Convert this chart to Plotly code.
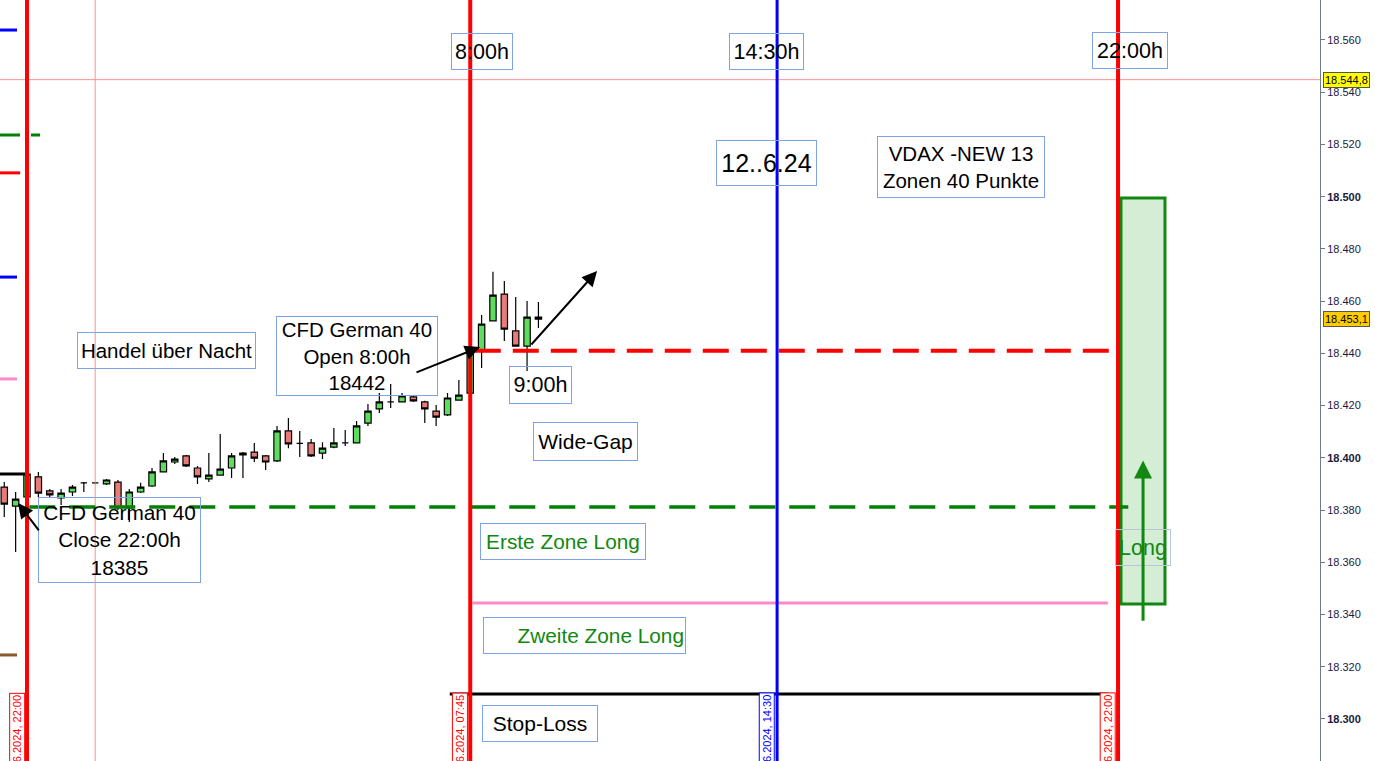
import plotly.graph_objects as go

# ---------------- data ----------------
candle_idx = list(range(48))
opens = [18388.8, 18381.5, 18385.0, 18392.7, 18387.3, 18384.6, 18386.9, 18390.4, 18390.4, 18390.0,
         18390.7, 18380.8, 18386.9, 18389.2, 18394.6, 18398.4, 18400.7, 18396.1, 18391.9, 18393.4,
         18396.1, 18401.1, 18402.2, 18400.7, 18398.8, 18410.3, 18405.5, 18405.7, 18401.8, 18404.1,
         18405.7, 18405.7, 18413.3, 18418.7, 18421.4, 18421.4, 18423.3, 18421.4, 18417.9, 18416.4,
         18422.1, 18424.8, 18441.3, 18452.4, 18462.7, 18448.6, 18442.8, 18453.9]
highs = [18390.7, 18386.9, 18395.3, 18394.6, 18388.1, 18388.1, 18389.6, 18390.7, 18390.7, 18391.9,
         18391.5, 18388.1, 18390.4, 18396.1, 18401.8, 18400.3, 18401.1, 18396.9, 18401.8, 18409.1,
         18401.8, 18402.2, 18405.7, 18401.1, 18412.2, 18415.2, 18410.3, 18407.2, 18406.0, 18411.4,
         18410.6, 18414.1, 18420.6, 18424.8, 18428.3, 18424.8, 18423.7, 18421.8, 18420.2, 18424.8,
         18429.8, 18442.0, 18454.7, 18471.2, 18467.7, 18461.6, 18460.0, 18459.7]
lows = [18377.3, 18363.9, 18383.8, 18385.0, 18384.6, 18381.9, 18385.4, 18386.9, 18390.0, 18389.6,
        18380.0, 18375.4, 18386.5, 18388.8, 18394.6, 18397.6, 18396.5, 18390.0, 18390.7, 18393.4,
        18392.3, 18392.3, 18398.4, 18395.3, 18398.4, 18403.7, 18400.3, 18400.3, 18399.5, 18403.7,
        18404.5, 18405.7, 18412.2, 18417.2, 18419.1, 18421.4, 18421.4, 18413.3, 18412.2, 18416.0,
        18421.8, 18424.0, 18434.4, 18452.4, 18444.7, 18442.8, 18433.2, 18449.7]
closes = [18382.3, 18384.2, 18393.8, 18386.5, 18385.8, 18386.5, 18388.8, 18390.4, 18390.4, 18391.5,
          18380.8, 18386.9, 18388.8, 18394.6, 18398.8, 18399.5, 18396.9, 18392.7, 18393.4, 18395.7,
          18400.7, 18401.8, 18399.9, 18398.4, 18410.3, 18405.3, 18405.5, 18400.7, 18403.7, 18405.7,
          18405.7, 18412.2, 18417.9, 18421.4, 18421.4, 18423.7, 18421.8, 18418.7, 18415.6, 18422.9,
          18424.0, 18440.1, 18451.2, 18462.3, 18449.3, 18442.8, 18453.9, 18453.1]

# y ticks
y_ticks = [18300, 18320, 18340, 18360, 18380, 18400, 18420, 18440, 18460, 18480, 18500, 18520, 18540, 18560]
y_tick_labels = ["<b>18.300</b>", "18.320", "18.340", "18.360", "18.380", "<b>18.400</b>", "18.420",
                 "18.440", "18.460", "18.480", "<b>18.500</b>", "18.520", "18.540", "18.560"]

# session markers (candle-index positions)
session_dates = ["11.06.2024, 22:00", "12.06.2024, 07:45", "12.06.2024, 14:30", "12.06.2024, 22:00"]
session_pos = [2, 41, 68, 98]
session_colors = ["#ff0000", "#ff0000", "#0000ff", "#ff0000"]
crosshair_x = 8
crosshair_price = 18544.8
last_price = 18453.1

# horizontal levels
open_level = 18441.0
close_level = 18381.2
zone2_level = 18344.4
stop_level = 18309.6
prev_stop_level = 18393.8
long_box = [98.26, 102.13, 18344.0, 18499.5]
long_arrow = [100.2, 18337.0, 18399.0]

# short level stubs at the left edge
left_levels = [18563.8, 18523.6, 18509.1, 18469.2, 18430.2, 18324.5]
left_colors = ["#0000ff", "#008000", "#ff0000", "#0000ff", "#ff88c8", "#8b5a2b"]
left_ends = [1.12, 3.15, 1.4, 1.12, 1.12, 1.12]

# text notes: x (candle idx), price, text, font size, colour, box width, box height
notes = [
    (42.04, 18555.4, "8:00h", 21.5, "#000000", 62, 37),
    (67.1, 18555.4, "14:30h", 21.5, "#000000", 75, 37),
    (99.05, 18555.8, "22:00h", 21.5, "#000000", 76, 37),
    (67.1, 18512.9, "12..6.24", 25, "#000000", 101, 46),
    (84.18, 18511.4, "VDAX -NEW 13<br>Zonen 40 Punkte", 20.5, "#000000", 168, 62),
    (14.23, 18440.9, "Handel über Nacht", 20.5, "#000000", 179, 37),
    (31.04, 18439.0, "CFD German 40<br>Open 8:00h<br>18442", 20.5, "#000000", 162, 80),
    (47.14, 18427.9, "9:00h", 21.5, "#000000", 63, 38),
    (51.1, 18406.4, "Wide-Gap", 21, "#000000", 105, 39),
    (10.1, 18368.5, "CFD German 40<br>Close 22:00h<br>18385", 20.8, "#000000", 163, 86),
    (49.2, 18368.1, "Erste Zone Long", 20.8, "#118811", 166, 37),
    (51.05, 18332.1, "Zweite Zone Long", 20.8, "#118811", 203, 37),
    (47.14, 18298.1, "Stop-Loss", 21, "#000000", 116, 37),
]

X_RANGE = [-0.376, 115.77]
Y_RANGE = [18283.9, 18575.3]

FONT = "Liberation Sans, Arial, sans-serif"
BOX = "#7ea3e6"

fig = go.Figure()

fig.add_trace(go.Candlestick(
    x=candle_idx, open=opens, high=highs, low=lows, close=closes,
    increasing=dict(fillcolor="#5ddc5d", line=dict(color="#000000", width=1.2)),
    decreasing=dict(fillcolor="#e97a7a", line=dict(color="#000000", width=1.2)),
    whiskerwidth=0, showlegend=False, hoverinfo="skip"))

shapes = []
shapes.append(dict(type="line", xref="x", yref="paper", x0=crosshair_x, x1=crosshair_x, y0=0, y1=1,
                   line=dict(color="#ff9090", width=1)))
shapes.append(dict(type="line", xref="paper", yref="y", x0=0, x1=1, y0=crosshair_price, y1=crosshair_price,
                   line=dict(color="#ff9090", width=1)))

for lv, col, xe in zip(left_levels, left_colors, left_ends):
    shapes.append(dict(type="line", xref="x", yref="y", x0=X_RANGE[0], x1=xe, y0=lv, y1=lv,
                       line=dict(color=col, width=3, dash="20px,11px" if col == "#008000" else "solid")))
shapes.append(dict(type="line", xref="x", yref="y", x0=X_RANGE[0], x1=session_pos[0], y0=prev_stop_level,
                   y1=prev_stop_level, line=dict(color="#000000", width=3)))

shapes.append(dict(type="line", xref="x", yref="y", x0=41.4, x1=98, y0=open_level, y1=open_level,
                   line=dict(color="#ff0000", width=4, dash="26px,12px")))
shapes.append(dict(type="line", xref="x", yref="y", x0=2.2, x1=98.9, y0=close_level, y1=close_level,
                   line=dict(color="#008000", width=3.5, dash="26px,14px")))
shapes.append(dict(type="line", xref="x", yref="y", x0=41.2, x1=97.1, y0=zone2_level, y1=zone2_level,
                   line=dict(color="#ff88c8", width=3)))
shapes.append(dict(type="line", xref="x", yref="y", x0=39.2, x1=97.1, y0=stop_level, y1=stop_level,
                   line=dict(color="#000000", width=3)))

shapes.append(dict(type="rect", xref="x", yref="y", x0=long_box[0], x1=long_box[1], y0=long_box[2], y1=long_box[3],
                   fillcolor="#d5ecd5", line=dict(color="#118811", width=3), layer="below"))

for pos, col in zip(session_pos, session_colors):
    shapes.append(dict(type="line", xref="x", yref="paper", x0=pos, x1=pos, y0=0, y1=1,
                       line=dict(color=col, width=4 if col == "#ff0000" else 3)))

annotations = []
for x, y, txt, size, col, w, h in notes:
    extra = {}
    if txt.startswith("Zweite"):
        extra = dict(align="right")
    annotations.append(dict(x=x, y=y, xref="x", yref="y", text=txt, showarrow=False,
                            font=dict(family=FONT, size=size, color=col), bgcolor="rgba(0,0,0,0)",
                            bordercolor=BOX, borderwidth=1, borderpad=1, width=w - 4, height=h - 4,
                            valign="middle", **extra))

annotations.append(dict(x=100.2, y=18365.8, xref="x", yref="y", text="Long", showarrow=False,
                        font=dict(family=FONT, size=21.5, color="#118811"), bgcolor="rgba(0,0,0,0)",
                        bordercolor="#b8c4d8", borderwidth=1, borderpad=1, width=52, height=33))

arrows = [((3.14, 18371.6), (1.21, 18382.7)),
          ((36.14, 18432.5), (41.86, 18442.4)),
          ((46.26, 18442.8), (52.16, 18471.5))]
for (tx, ty), (hx, hy) in arrows:
    annotations.append(dict(x=hx, y=hy, ax=tx, ay=ty, xref="x", yref="y", axref="x", ayref="y",
                            text="", showarrow=True, arrowhead=2, arrowsize=1.5, arrowwidth=2,
                            arrowcolor="#000000"))
annotations.append(dict(x=long_arrow[0], y=long_arrow[2], ax=long_arrow[0], ay=long_arrow[1],
                        xref="x", yref="y", axref="x", ayref="y", text="", showarrow=True,
                        arrowhead=2, arrowsize=1.2, arrowwidth=3, arrowcolor="#118811"))

for pos, col, txt in zip(session_pos, session_colors, session_dates):
    annotations.append(dict(x=pos, y=18310.0, xref="x", yref="y", text=txt, textangle=-90,
                            xanchor="right", yanchor="top", xshift=-2, showarrow=False,
                            font=dict(family=FONT, size=11, color=col), bgcolor="#ffffff",
                            bordercolor=col, borderwidth=1, borderpad=1))

annotations.append(dict(x=1.0, y=crosshair_price, xref="paper", yref="y", xanchor="left", xshift=3,
                        text="18.544,8", showarrow=False, font=dict(family=FONT, size=11, color="#000000"),
                        bgcolor="#ffff00", bordercolor="#555555", borderwidth=1, borderpad=1))
annotations.append(dict(x=1.0, y=last_price, xref="paper", yref="y", xanchor="left", xshift=3,
                        text="18.453,1", showarrow=False, font=dict(family=FONT, size=11, color="#000000"),
                        bgcolor="#ffcc00", bordercolor="#555555", borderwidth=1, borderpad=1))

fig.update_layout(
    width=1375, height=761,
    margin=dict(l=0, r=55, t=0, b=0),
    paper_bgcolor="#ffffff", plot_bgcolor="#ffffff",
    shapes=shapes, annotations=annotations,
    showlegend=False, boxgap=0.2,
    xaxis=dict(range=X_RANGE, visible=False, rangeslider=dict(visible=False), fixedrange=True),
    yaxis=dict(range=Y_RANGE, side="right", tickvals=y_ticks, ticktext=y_tick_labels,
               showgrid=False, zeroline=False, showline=True, linecolor="#6b7b8b", linewidth=1,
               ticks="outside", ticklen=4, tickcolor="#6b7b8b",
               tickfont=dict(family=FONT, size=11, color="#1a1a40")),
)

fig.write_html("out.html", config={"displayModeBar": False},
               post_script="document.body.style.margin='0';document.body.style.overflow='hidden';")
